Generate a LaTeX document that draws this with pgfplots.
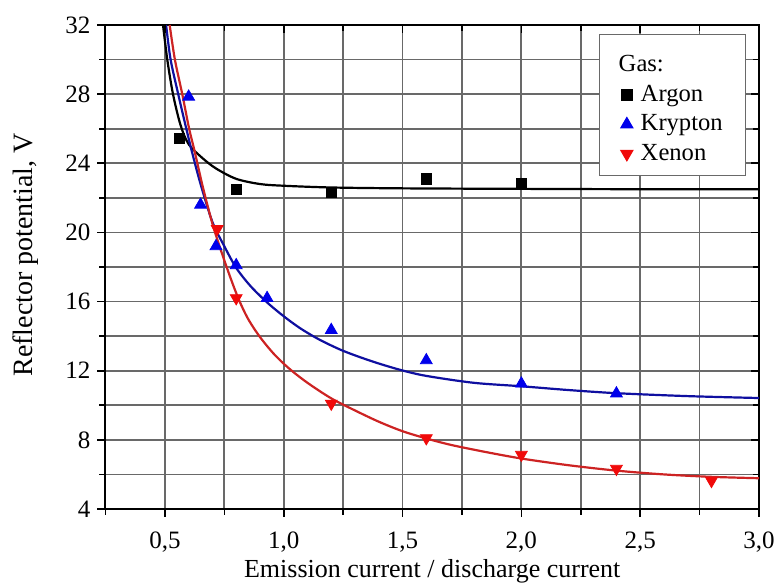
\documentclass[border=0pt]{standalone}
\usepackage{fontspec}
\setmainfont{Liberation Serif}
\usepackage{pgfplots}
\pgfplotsset{compat=1.18}
\definecolor{kr}{RGB}{0,0,235}
\definecolor{krline}{RGB}{15,15,160}
\definecolor{xe}{RGB}{240,10,10}
\definecolor{xeline}{RGB}{205,35,35}
\definecolor{gridc}{RGB}{105,105,105}
\begin{document}
\begin{tikzpicture}
\pgfplotsset{
  base/.style={width=326.75pt,height=242pt,scale only axis,
    xmin=0.25,xmax=3.0,ymin=4,ymax=32,
    xtick={0.5,1.0,1.5,2.0,2.5,3.0},
    minor xtick={0.25,0.75,1.25,1.75,2.25,2.75},
    ytick={4,8,12,16,20,24,28,32},
    minor ytick={6,10,14,18,22,26,30},
    axis line style={line width=1pt},
    every tick/.style={black,line width=0.8pt},
    major tick length=4pt, minor tick length=3pt,
  }
}
\begin{axis}[base,
  grid=both,
  major grid style={gridc,line width=0.9pt},
  minor grid style={gridc,line width=0.9pt},
  tick align=outside, xtick pos=left, ytick pos=left,
  /pgf/number format/assume math mode=true,
  tick label style={font=\fontsize{12.5}{14}\selectfont},
  xticklabel style={yshift=-4pt,/pgf/number format/.cd,fixed,fixed zerofill,precision=1,use comma},
  xlabel={Emission current / discharge current},
  ylabel={Reflector potential, V},
  every axis x label/.style={at={(rel axis cs:0.5,0)},yshift=-31pt,anchor=center,font=\fontsize{13}{15}\selectfont},
  every axis y label/.style={at={(rel axis cs:0,0.525)},xshift=-39.75pt,rotate=90,anchor=center,font=\fontsize{14}{16}\selectfont},
  legend style={at={(rel axis cs:0.98,0.981)},anchor=north east,draw=gridc,line width=0.6pt,fill=white,
    font=\fontsize{12.3}{14.7}\selectfont,inner xsep=5pt,inner ysep=4pt,row sep=1.2pt,column sep=2pt},
  legend cell align=left,
]
% fitted curves
\addplot[black,line width=1.1pt,smooth,forget plot] coordinates {
(0.492,32.0) (0.51,30.0) (0.534,28.0) (0.566,26.2) (0.60,25.1) (0.658,24.3)
(0.715,23.7) (0.80,23.1) (0.90,22.8) (1.0,22.7) (1.2,22.6) (1.5,22.55)
(2.0,22.52) (2.5,22.5) (3.0,22.5)};
\addplot[krline,line width=1.1pt,smooth,forget plot] coordinates {
(0.505,32.0) (0.524,30.0) (0.556,28.0) (0.59,26.0) (0.615,24.6) (0.65,22.8)
(0.70,20.6) (0.75,19.2) (0.80,17.95) (0.86,16.9) (0.93,15.95) (1.00,15.15)
(1.07,14.45) (1.15,13.8) (1.25,13.15) (1.37,12.55) (1.49,12.05) (1.60,11.7)
(1.80,11.3) (2.00,11.1) (2.20,10.88) (2.40,10.7) (2.70,10.53) (3.00,10.42)};
\addplot[xeline,line width=1.1pt,smooth,forget plot] coordinates {
(0.52,32.0) (0.542,30.0) (0.573,28.0) (0.602,26.0) (0.625,24.7) (0.66,22.6)
(0.70,20.5) (0.73,19.2) (0.77,17.6) (0.81,16.15) (0.85,15.0) (0.90,13.95)
(0.96,12.95) (1.025,12.1) (1.10,11.3) (1.20,10.4) (1.30,9.7) (1.40,9.05)
(1.50,8.5) (1.60,8.08) (1.70,7.72) (1.83,7.35) (2.00,6.92) (2.20,6.53)
(2.40,6.22) (2.60,6.0) (2.80,5.86) (3.00,5.78)};
% legend title
\addlegendimage{empty legend}
\addlegendentry{\hspace*{-11pt}\rule{0pt}{12.5pt}Gas:}
% measured points
\addplot[only marks,mark=square*,mark size=2.6pt,black] coordinates {
(0.56,25.45) (0.80,22.5) (1.20,22.3) (1.60,23.1) (2.00,22.85)};
\addlegendentry{Argon}
\addplot[only marks,mark=triangle*,mark size=3.4pt,kr] coordinates {
(0.60,27.85) (0.65,21.6) (0.715,19.2) (0.80,18.1) (0.93,16.2) (1.20,14.35)
(1.60,12.6) (2.00,11.25) (2.40,10.68)};
\addlegendentry{Krypton\hspace*{4.3pt}}
\addplot[only marks,mark=triangle*,mark size=3.4pt,xe,mark options={rotate=180}] coordinates {
(0.72,20.2) (0.80,16.2) (1.20,10.1) (1.60,8.1) (2.00,7.14) (2.40,6.33) (2.80,5.63)};
\addlegendentry{Xenon}
\end{axis}
\begin{axis}[base,tick align=inside,xtick pos=right,ytick pos=right,
  xticklabels={},yticklabels={},axis line style={draw=none}]
\end{axis}
\pgfresetboundingbox
\path ([xshift=-52.75pt,yshift=-39.5pt]current axis.south west) rectangle ([xshift=8.5pt,yshift=12.5pt]current axis.north east);
\end{tikzpicture}
\end{document}
